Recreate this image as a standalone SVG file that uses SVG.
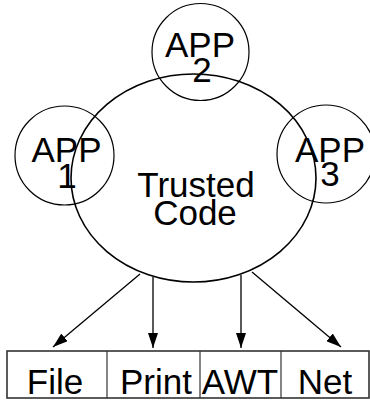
<svg xmlns="http://www.w3.org/2000/svg" width="370" height="400" viewBox="0 0 370 400">
<style>
text{font-family:"Liberation Sans",Arial,sans-serif;font-size:35px;fill:#000;text-anchor:middle}
.c{fill:none;stroke:#000;stroke-width:1.2}
.e{fill:none;stroke:#000;stroke-width:1.6}
.a{stroke:#000;stroke-width:1.3;fill:none}
.box{fill:none;stroke:#333;stroke-width:1.6}
.div{fill:none;stroke:#333;stroke-width:1.2}
</style>
<defs>
<marker id="ah" markerUnits="userSpaceOnUse" markerWidth="15" markerHeight="10" refX="15" refY="5" orient="auto">
<path d="M0,0 L15,5 L0,10 z" fill="#000"/>
</marker>
</defs>
<rect width="370" height="400" fill="#fff"/>
<g id="trusted">
<ellipse class="e" cx="193.5" cy="178" rx="122.5" ry="104"/>
<text x="196" y="197">Trusted</text>
<text x="195" y="225">Code</text>
</g>
<g id="app1">
<circle class="c" cx="64.5" cy="155.5" r="49.5"/>
<text x="66.5" y="162">APP</text>
<text x="67" y="188">1</text>
</g>
<g id="app2">
<circle class="c" cx="200.5" cy="52" r="48.5"/>
<text x="200" y="57">APP</text>
<text x="202" y="82">2</text>
</g>
<g id="app3">
<circle class="c" cx="326" cy="154" r="49"/>
<text x="330" y="162">APP</text>
<text x="330" y="186">3</text>
</g>
<g id="connectors">
<line class="a" x1="140" y1="274" x2="53" y2="347" marker-end="url(#ah)"/>
<line class="a" x1="153" y1="277" x2="153" y2="348" marker-end="url(#ah)"/>
<line class="a" x1="241" y1="275" x2="241" y2="348" marker-end="url(#ah)"/>
<line class="a" x1="252" y1="272" x2="341" y2="347" marker-end="url(#ah)"/>
</g>
<g id="services">
<rect class="box" x="7" y="351" width="362" height="47"/>
<line class="div" x1="107" y1="351" x2="107" y2="398"/>
<line class="div" x1="200" y1="351" x2="200" y2="398"/>
<line class="div" x1="281" y1="351" x2="281" y2="398"/>
</g>
<g id="file"><text x="55" y="394">File</text></g>
<g id="print"><text x="156" y="394">Print</text></g>
<g id="awt"><text x="240" y="394">AWT</text></g>
<g id="net"><text x="325" y="394">Net</text></g>
</svg>
